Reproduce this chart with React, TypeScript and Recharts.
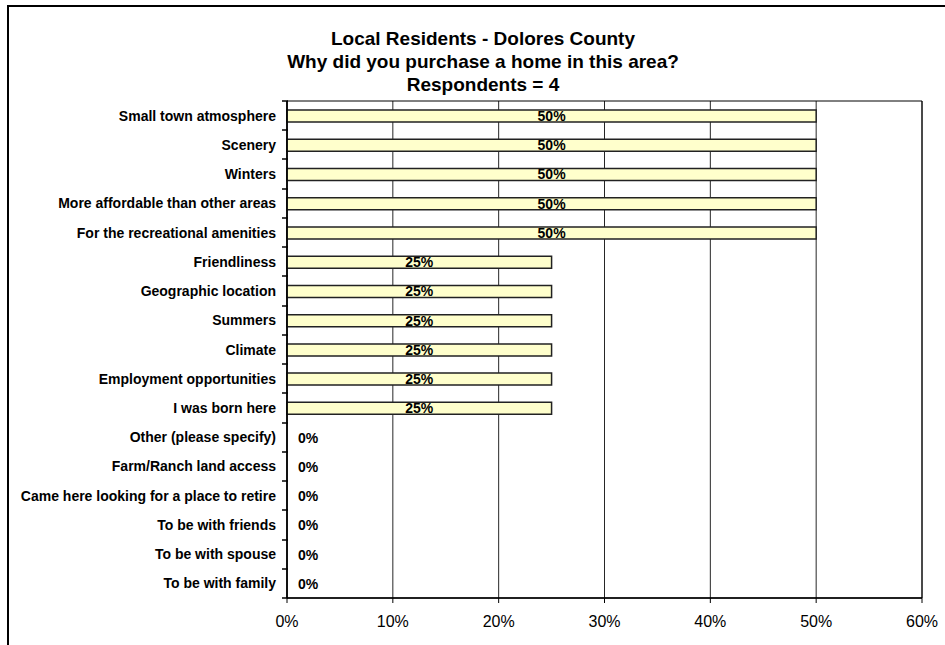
import { BarChart, Bar, XAxis, YAxis, CartesianGrid, LabelList, ReferenceArea, Cell } from "recharts";

const reasons = [
  "Small town atmosphere",
  "Scenery",
  "Winters",
  "More affordable than other areas",
  "For the recreational amenities",
  "Friendliness",
  "Geographic location",
  "Summers",
  "Climate",
  "Employment opportunities",
  "I was born here",
  "Other (please specify)",
  "Farm/Ranch land access",
  "Came here looking for a place to retire",
  "To be with friends",
  "To be with spouse",
  "To be with family",
];

const shares = [50, 50, 50, 50, 50, 25, 25, 25, 25, 25, 25, 0, 0, 0, 0, 0, 0];

const xTicks = [0, 10, 20, 30, 40, 50, 60];

const titleLines = [
  "Local Residents - Dolores County",
  "Why did you purchase a home in this area?",
  "Respondents = 4",
];

const data = reasons.map((reason, i) => ({ reason, share: shares[i] }));

const FONT = "'Liberation Sans', Arial, sans-serif";
const WIDTH = 945;
const HEIGHT = 645;
const MARGIN = { top: 101, right: 23, bottom: 12, left: 0 };
const X_AXIS_HEIGHT = 35;
const band = (HEIGHT - MARGIN.top - MARGIN.bottom - X_AXIS_HEIGHT) / reasons.length;

function ReasonTick(props: any) {
  const { x, y, payload, index } = props;
  const top = Math.round(y - band / 2);
  const bottom = Math.round(y + band / 2);
  return (
    <g>
      <path d={`M${x - 5},${top}H${x + 1}`} stroke="#000" strokeWidth={1.5} fill="none" />
      {index === reasons.length - 1 && (
        <path d={`M${x - 5},${bottom}H${x + 1}`} stroke="#000" strokeWidth={1.5} fill="none" />
      )}
      <text
        x={x - 11}
        y={y + 5}
        textAnchor="end"
        fontFamily={FONT}
        fontSize={14}
        fontWeight="bold"
        fill="#000"
      >
        {payload.value}
      </text>
    </g>
  );
}

function ShareLabel(props: any) {
  const { x, y, width, height, value } = props;
  const zero = !value;
  return (
    <text
      x={zero ? x + 11 : x + width / 2}
      y={y + height / 2 + 5}
      textAnchor={zero ? "start" : "middle"}
      fontFamily={FONT}
      fontSize={14}
      fontWeight="bold"
      fill="#000"
    >
      {value + "%"}
    </text>
  );
}

function App() {
  return (
    <div style={{ position: "absolute", left: 0, top: 0, width: WIDTH, height: HEIGHT, overflow: "hidden", background: "#fff" }}>
      <div
        style={{
          position: "absolute",
          left: 7,
          top: 5,
          width: WIDTH,
          height: HEIGHT,
          borderLeft: "2px solid #000",
          borderTop: "2px solid #000",
        }}
      />
      <div
        style={{
          position: "absolute",
          left: 13,
          width: 940,
          top: 27,
          textAlign: "center",
          fontFamily: FONT,
          fontWeight: "bold",
          fontSize: 19,
          lineHeight: "23px",
          color: "#000",
        }}
      >
        {titleLines.map((line) => (
          <div key={line}>{line}</div>
        ))}
      </div>
      <div style={{ position: "absolute", left: 0, top: 0 }}>
        <BarChart width={WIDTH} height={HEIGHT} data={data} layout="vertical" margin={MARGIN} barCategoryGap={0}>
          <CartesianGrid horizontal={false} vertical={true} stroke="#000" strokeOpacity={0.85} />
          <ReferenceArea x1={0} x2={60} fill="none" stroke="#000" strokeOpacity={1} ifOverflow="visible" />
          <XAxis
            type="number"
            domain={[0, 60]}
            ticks={xTicks}
            tickFormatter={(v: number) => v + "%"}
            height={X_AXIS_HEIGHT}
            axisLine={{ stroke: "#000", strokeWidth: 1.5 }}
            tickLine={{ stroke: "#000" }}
            tickSize={5}
            tickMargin={13}
            tick={{ fill: "#000", fontFamily: FONT, fontSize: 16 }}
            interval={0}
          />
          <YAxis
            type="category"
            dataKey="reason"
            width={287}
            axisLine={{ stroke: "#000", strokeWidth: 1.5 }}
            tickLine={false}
            tickSize={0}
            tickMargin={0}
            tick={<ReasonTick />}
            interval={0}
          />
          <Bar
            dataKey="share"
            barSize={12}
            fill="#FFFFCC"
            stroke="#222"
            strokeWidth={1.5}
            minPointSize={0.5}
            isAnimationActive={false}
          >
            {shares.map((v, i) => (
              <Cell key={i} stroke={v === 0 ? "none" : "#222"} fill={v === 0 ? "none" : "#FFFFCC"} />
            ))}
            <LabelList dataKey="share" content={<ShareLabel />} />
          </Bar>
        </BarChart>
      </div>
    </div>
  );
}

export default App;
